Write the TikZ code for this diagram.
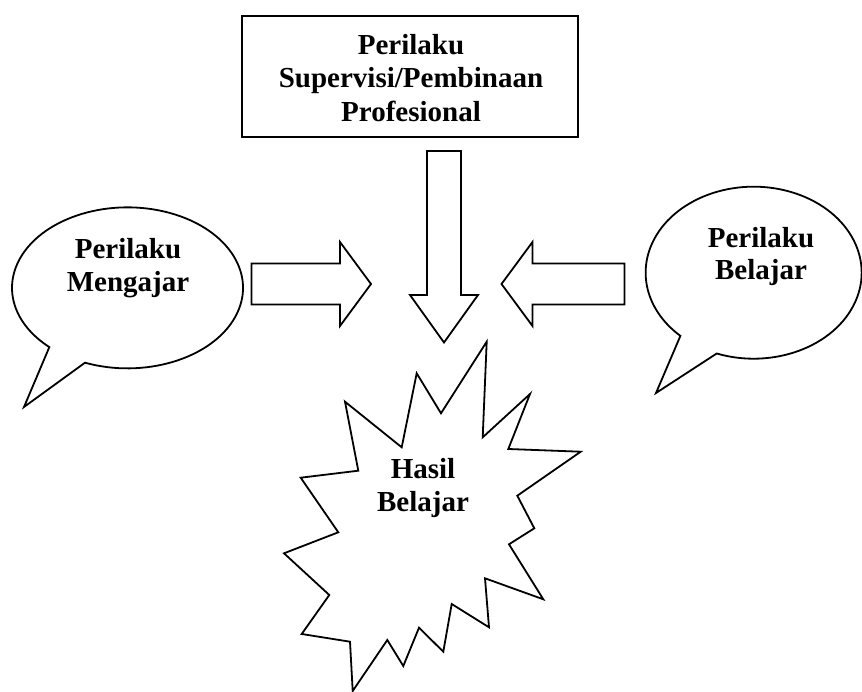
\documentclass[tikz,border=0pt]{standalone}
\usepackage{fontspec}
\setmainfont{Liberation Serif}
\begin{document}
\begin{tikzpicture}[x=1pt,y=-1pt, line width=1.8pt, line join=miter,
  lbl/.style={font=\fontsize{29}{33}\selectfont\bfseries, inner sep=0pt, anchor=base},
  shp/.style={draw=black, fill=white}]
\useasboundingbox (0,0) rectangle (862,692);
% top box
\node[draw, line width=1.8pt, minimum width=336.3pt, minimum height=120.7pt, inner sep=0pt] (box) at (409.85,76.35) {};
\node[lbl] (boxa) at (411,54.5) {Perilaku};
\node[lbl] (boxb) at (411,88) {Supervisi/Pembinaan};
\node[lbl] (boxc) at (411,121.5) {Profesional};
% block arrows
\draw[shp] (427,151) -- (461,151) -- (461,295) -- (478,295) -- (444,342.5) -- (410,295) -- (427,295) -- cycle;
\draw[shp] (251.5,263.5) -- (340,263.5) -- (340,242) -- (371,284) -- (340,326) -- (340,304.5) -- (251.5,304.5) -- cycle;
\draw[shp] (624.5,263.5) -- (532.5,263.5) -- (532.5,242) -- (501.5,284) -- (532.5,326) -- (532.5,304.5) -- (624.5,304.5) -- cycle;
% left callout
\draw[shp] (85,362.7) arc[start angle=111.6, end angle=-227.4, x radius=115.5, y radius=80.5] -- (24,407) -- cycle;
\node[lbl] (mengajara) at (128,259) {Perilaku};
\node[lbl] (mengajarb) at (128,291.7) {Mengajar};
% right callout
\draw[shp] (716.7,353.5) arc[start angle=110, end angle=-227.3, x radius=108, y radius=86] -- (656,393) -- cycle;
\node[lbl] (belajara) at (761,247.5) {Perilaku};
\node[lbl] (belajarb) at (761,279.5) {Belajar};
% explosion
\draw[shp] (486.7,341.7) -- (482.7,437.3) -- (530,394) -- (508.3,449) -- (580.7,451.7)
  -- (517.3,495.7) -- (534.3,528.3) -- (509,544.3) -- (543.3,599.3) -- (485,578.3)
  -- (489,627.3) -- (451.7,604) -- (443.3,651.7) -- (419,627.7) -- (403.3,666)
  -- (387.3,640) -- (352.7,691) -- (350,641.7) -- (301.7,634) -- (329.3,595)
  -- (284,553.3) -- (338.3,532.3) -- (300.7,477.7) -- (358.3,470.7) -- (345,401.7)
  -- (401.7,447.3) -- (416.7,373.3) -- (441,413.3) -- cycle;
\node[lbl] (hasila) at (423,478.3) {Hasil};
\node[lbl] (hasilb) at (423,511.7) {Belajar};
\end{tikzpicture}
\end{document}
